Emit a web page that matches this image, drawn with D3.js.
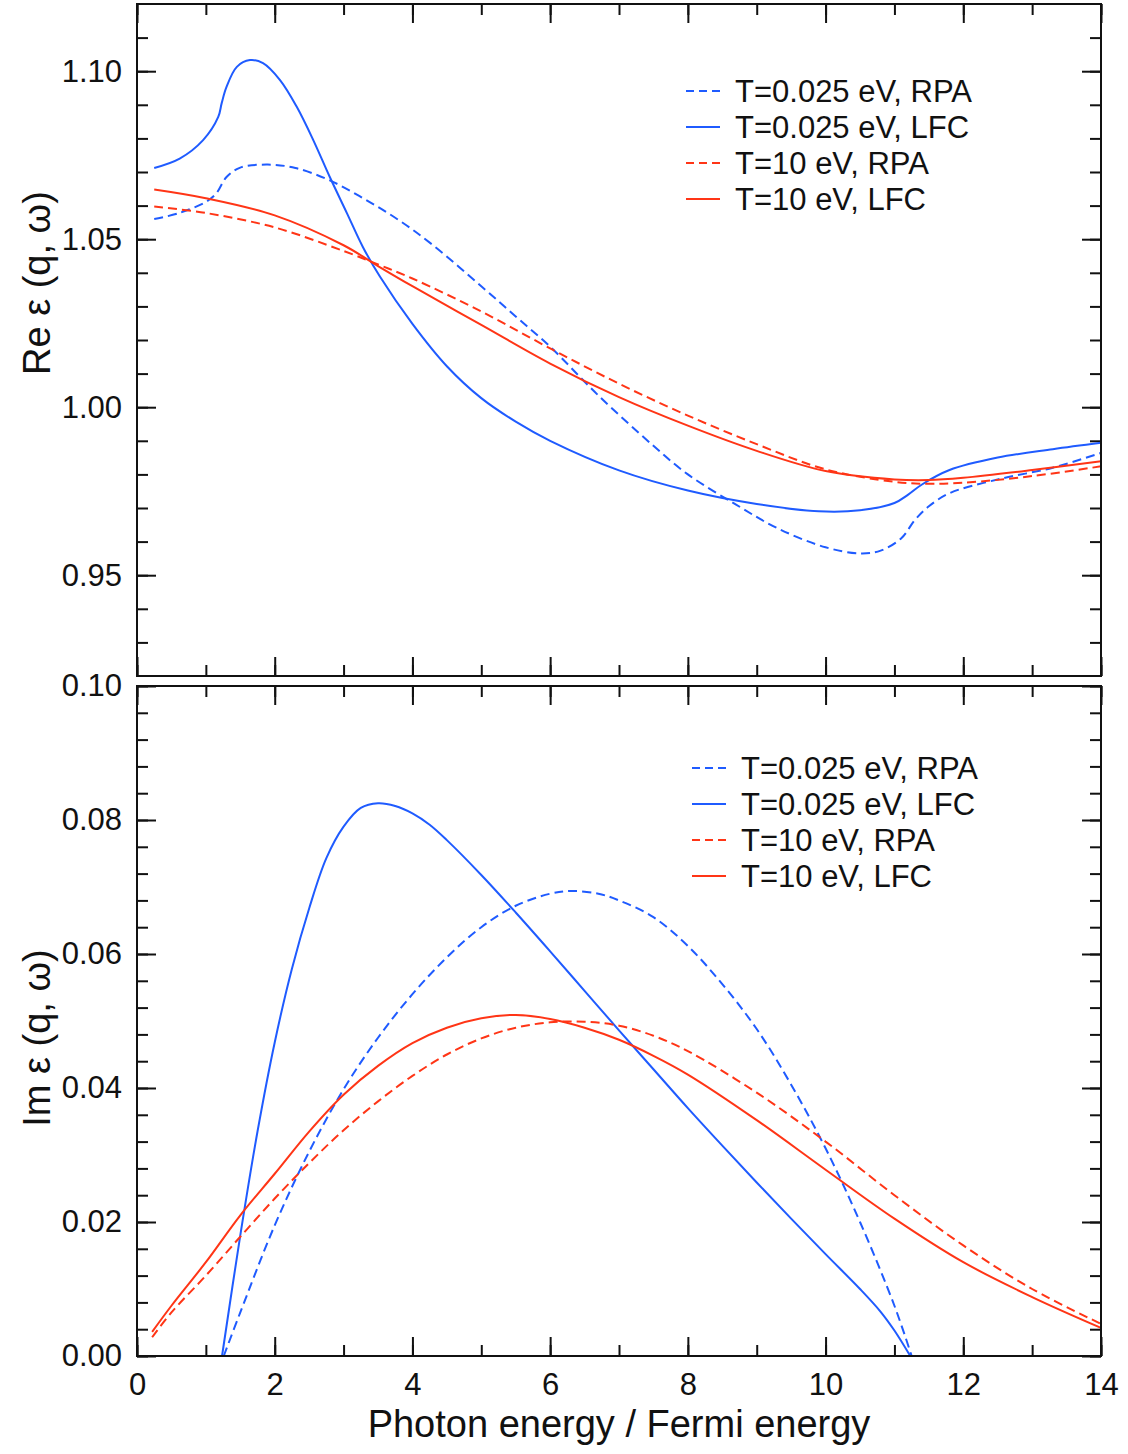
<!DOCTYPE html>
<html>
<head>
<meta charset="utf-8">
<script src="https://cdn.jsdelivr.net/npm/d3@7"></script>
<style>
  body { margin: 0; background: #fff; }
  svg text { font-family: "Liberation Sans", Helvetica, Arial, sans-serif; fill: #111; }
</style>
</head>
<body>
<div id="chart"></div>
<script>
// Re eps data (x = photon energy / Fermi energy)
const reBlueRPA = [[0.25,1.0560],[0.6,1.0577],[1.0,1.0611],[1.15,1.0636],[1.3,1.0685],[1.5,1.0713],[1.9,1.0722],[2.3,1.0712],[2.8,1.0675],[3.3,1.0620],[3.8,1.0557],[4.3,1.0482],[5,1.0360],[5.5,1.0270],[6,1.0180],[6.7,1.0035],[7.5,0.9885],[8,0.9800],[8.7,0.9710],[9.3,0.9640],[10,0.9583],[10.5,0.9565],[10.8,0.9573],[11.1,0.9610],[11.3,0.9665],[11.5,0.9705],[11.8,0.9744],[12.5,0.9785],[13.3,0.9820],[14,0.9864]];
const reBlueLFC = [[0.25,1.0712],[0.62,1.0740],[0.96,1.0795],[1.18,1.0864],[1.23,1.0905],[1.30,1.0953],[1.45,1.1013],[1.64,1.1033],[1.83,1.1024],[2.08,1.0973],[2.32,1.0894],[2.56,1.0795],[2.8,1.0685],[3.05,1.0577],[3.28,1.0477],[3.53,1.0388],[4,1.0248],[4.5,1.0122],[5,1.0027],[5.5,0.9957],[6,0.9900],[7,0.9812],[8,0.9752],[9,0.9712],[9.9,0.9690],[10.5,0.9693],[11,0.9715],[11.2,0.9740],[11.4,0.9770],[11.8,0.9813],[12.5,0.9850],[13.3,0.9875],[14,0.9894]];
const reRedRPA = [[0.25,1.0597],[1,1.0578],[2,1.0535],[3,1.0465],[3.5,1.0425],[4,1.0383],[5,1.0285],[6,1.0175],[7,1.0070],[8,0.9975],[9,0.9890],[10,0.9815],[11,0.9778],[11.5,0.9772],[12,0.9775],[13,0.9795],[14,0.9824]];
const reRedLFC = [[0.25,1.0648],[1,1.0622],[2,1.0571],[3,1.0482],[3.5,1.0420],[4,1.0360],[5,1.0245],[6,1.0130],[7,1.0030],[8,0.9945],[9,0.9870],[10,0.9810],[11,0.9785],[11.5,0.9783],[12,0.9790],[13,0.9813],[14,0.9839]];

// Im eps data
const imBlueRPA = [[1.26,0],[1.5,0.0065],[2,0.0195],[2.5,0.0305],[3,0.0398],[3.5,0.0475],[4,0.0540],[4.5,0.0595],[5,0.0640],[5.5,0.0672],[6,0.0690],[6.3,0.0694],[6.7,0.0690],[7,0.0680],[7.5,0.0655],[8,0.0612],[8.5,0.0555],[9,0.0488],[9.5,0.0405],[10,0.0310],[10.5,0.0200],[11,0.0075],[11.25,0]];
const imBlueLFC = [[1.235,0],[1.5,0.0180],[1.75,0.0335],[2,0.0468],[2.25,0.0578],[2.5,0.0668],[2.75,0.0743],[3,0.0790],[3.25,0.0818],[3.5,0.0825],[3.75,0.0821],[4,0.0810],[4.25,0.0793],[4.5,0.0770],[5,0.0718],[5.5,0.0662],[6,0.0604],[6.5,0.0545],[7,0.0486],[7.5,0.0428],[8,0.0370],[8.5,0.0314],[9,0.0259],[9.5,0.0205],[10,0.0152],[10.5,0.0100],[10.8,0.0066],[11,0.0038],[11.23,0]];
const imRedRPA = [[0.22,0.0028],[0.5,0.0065],[1,0.0120],[1.5,0.0178],[2,0.0235],[2.5,0.0288],[3,0.0337],[3.5,0.0380],[4,0.0418],[4.5,0.0450],[5,0.0474],[5.5,0.0490],[6,0.0498],[6.5,0.0499],[7,0.0493],[7.5,0.0478],[8,0.0455],[9,0.0393],[10,0.0320],[11,0.0240],[12,0.0165],[13,0.0100],[14,0.0048]];
const imRedLFC = [[0.22,0.0036],[0.5,0.0075],[1,0.0140],[1.5,0.0210],[2,0.0272],[2.5,0.0335],[3,0.0390],[3.5,0.0433],[4,0.0467],[4.5,0.0490],[5,0.0504],[5.5,0.0509],[6,0.0503],[6.5,0.0490],[7,0.0472],[7.5,0.0448],[8,0.0420],[9,0.0352],[10,0.0278],[11,0.0205],[12,0.0140],[13,0.0088],[14,0.0042]];

const legendLabels = ["T=0.025 eV, RPA", "T=0.025 eV, LFC", "T=10 eV, RPA", "T=10 eV, LFC"];
const xTicks = [0, 2, 4, 6, 8, 10, 12, 14];
const reTicks = [0.95, 1.00, 1.05, 1.10];
const imTicks = [0.00, 0.02, 0.04, 0.06, 0.08, 0.10];

const width = 1128, height = 1454;
const left = 137, right = 1101;
const blue = "#1f5bff", red = "#ff3516";
const styles = [
  { color: blue, dash: "9,5" },
  { color: blue, dash: null },
  { color: red, dash: "9,5" },
  { color: red, dash: null }
];

const svg = d3.select("#chart").append("svg")
  .attr("width", width)
  .attr("height", height);

const x = d3.scaleLinear().domain([0, 14]).range([left, right]);

function panel(cfg) {
  const y = d3.scaleLinear().domain(cfg.domain).range([cfg.bottom, cfg.top]);
  const g = svg.append("g");
  const fmt = d3.format(".2f");

  // minor + major ticks on all four sides (inward)
  const addAxis = (axis, tf) => {
    const a = g.append("g").attr("transform", tf).call(axis);
    a.select(".domain").remove();
    a.selectAll("line").attr("stroke", "#111").attr("stroke-width", 2);
    return a;
  };
  addAxis(d3.axisLeft(y).tickValues(cfg.minor).tickSize(-11).tickFormat(""), `translate(${left},0)`);
  addAxis(d3.axisRight(y).tickValues(cfg.minor).tickSize(-11).tickFormat(""), `translate(${right},0)`);
  const yl = addAxis(d3.axisLeft(y).tickValues(cfg.ticks).tickSize(-19).tickPadding(15).tickFormat(fmt), `translate(${left},0)`);
  yl.selectAll("text").attr("font-size", 31).attr("font-family", null);
  addAxis(d3.axisRight(y).tickValues(cfg.ticks).tickSize(-19).tickFormat(""), `translate(${right},0)`);

  const xMinor = d3.range(0, 15, 1);
  addAxis(d3.axisTop(x).tickValues(xMinor).tickSize(-11).tickFormat(""), `translate(0,${cfg.top})`);
  addAxis(d3.axisBottom(x).tickValues(xMinor).tickSize(-11).tickFormat(""), `translate(0,${cfg.bottom})`);
  addAxis(d3.axisTop(x).tickValues(xTicks).tickSize(-19).tickFormat(""), `translate(0,${cfg.top})`);
  const xb = addAxis(d3.axisBottom(x).tickValues(xTicks).tickSize(-19).tickPadding(17)
    .tickFormat(cfg.xLabels ? d3.format("d") : ""), `translate(0,${cfg.bottom})`);
  xb.selectAll("text").attr("font-size", 31).attr("font-family", null);

  // curves
  const line = d3.line()
    .x(d => x(d[0]))
    .y(d => y(d[1]))
    .curve(d3.curveCatmullRom.alpha(0.5));
  cfg.series.forEach((s, i) => {
    g.append("path")
      .datum(s)
      .attr("fill", "none")
      .attr("stroke", styles[i].color)
      .attr("stroke-width", 2)
      .attr("stroke-dasharray", styles[i].dash)
      .attr("d", line);
  });

  // frame
  g.append("rect")
    .attr("x", left).attr("y", cfg.top)
    .attr("width", right - left).attr("height", cfg.bottom - cfg.top)
    .attr("fill", "none").attr("stroke", "#111").attr("stroke-width", 2);

  // legend
  legendLabels.forEach((lab, i) => {
    const ly = cfg.legY + i * 36;
    g.append("line")
      .attr("x1", cfg.legX).attr("x2", cfg.legX + 34)
      .attr("y1", ly).attr("y2", ly)
      .attr("stroke", styles[i].color).attr("stroke-width", 2)
      .attr("stroke-dasharray", styles[i].dash ? "8,5" : null);
    g.append("text")
      .attr("x", cfg.legX + 49).attr("y", ly)
      .attr("dominant-baseline", "central")
      .attr("font-size", 31)
      .text(lab);
  });

  // y title
  g.append("text")
    .attr("transform", `translate(50,${cfg.titleY}) rotate(-90)`)
    .attr("text-anchor", "middle")
    .attr("font-size", 38)
    .text(cfg.title);
}

panel({
  domain: [0.92, 1.12], top: 4, bottom: 676,
  ticks: reTicks, minor: d3.range(93, 112, 1).map(v => v / 100),
  series: [reBlueRPA, reBlueLFC, reRedRPA, reRedLFC],
  legX: 686, legY: 91, title: "Re \u03b5 (q, \u03c9)", titleY: 283, xLabels: false
});

panel({
  domain: [0, 0.10], top: 686, bottom: 1356,
  ticks: imTicks, minor: d3.range(0, 26, 1).map(v => v * 0.004),
  series: [imBlueRPA, imBlueLFC, imRedRPA, imRedLFC],
  legX: 692, legY: 768, title: "Im \u03b5 (q, \u03c9)", titleY: 1038, xLabels: true
});

svg.append("text")
  .attr("x", (left + right) / 2).attr("y", 1437)
  .attr("text-anchor", "middle")
  .attr("font-size", 38)
  .text("Photon energy / Fermi energy");
</script>
</body>
</html>
